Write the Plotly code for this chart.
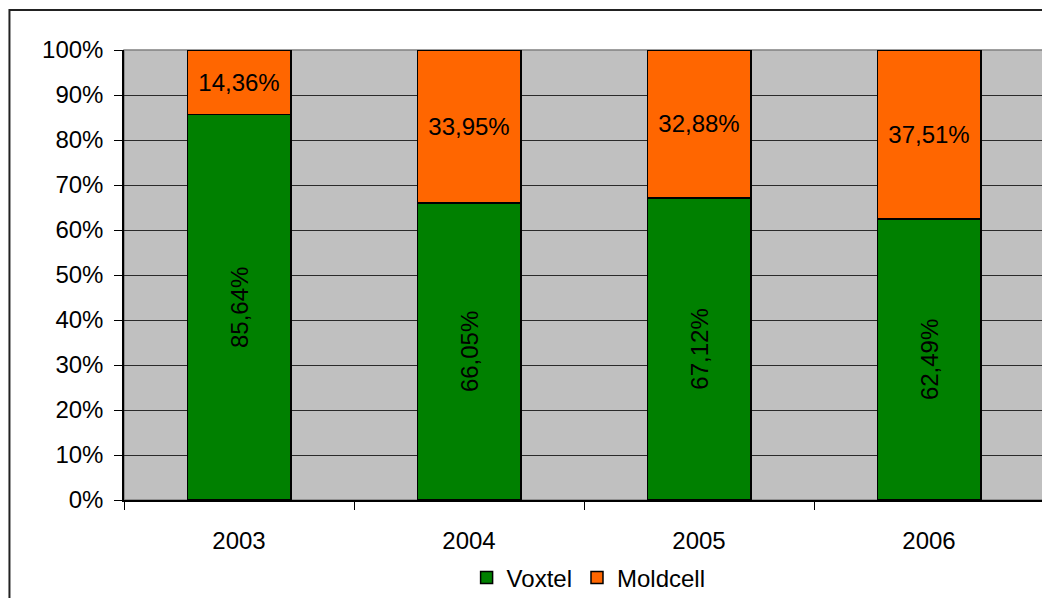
import plotly.graph_objects as go

years = ["2003", "2004", "2005", "2006"]
voxtel = [85.64, 66.05, 67.12, 62.49]
moldcell = [14.36, 33.95, 32.88, 37.51]
y_ticks = list(range(0, 101, 10))
y_tick_text = [f"{v}%" for v in y_ticks]

def fmt(v):
    return f"{v:.2f}".replace(".", ",") + "%"

FONT = "Liberation Sans, Arial, sans-serif"

fig = go.Figure()
fig.add_trace(go.Bar(
    x=years, y=voxtel, name="Voxtel",
    marker=dict(color="#008000", line=dict(color="black", width=1.5)),
    text=[fmt(v) for v in voxtel], textposition="inside",
    insidetextanchor="middle", textangle=-90, constraintext="none",
    insidetextfont=dict(color="black", size=24, family=FONT),
))
fig.add_trace(go.Bar(
    x=years, y=moldcell, name="Moldcell",
    marker=dict(color="#FF6600", line=dict(color="black", width=1.5)),
    text=[fmt(v) for v in moldcell], textposition="inside",
    insidetextanchor="middle", textangle=0, constraintext="none",
    insidetextfont=dict(color="black", size=24, family=FONT),
))

fig.update_layout(
    barmode="stack",
    bargap=0.55,
    width=1042, height=602,
    margin=dict(l=116, r=6, t=42, b=110),
    paper_bgcolor="white",
    plot_bgcolor="#C0C0C0",
    font=dict(family=FONT, size=24, color="black"),
    showlegend=True,
    legend=dict(orientation="h", x=0.505, xanchor="center", y=-0.173, yanchor="middle",
                font=dict(size=24), itemwidth=30, traceorder="normal",
                bgcolor="rgba(0,0,0,0)"),
    xaxis=dict(
        showgrid=False, showline=True, linecolor="black", linewidth=1.5,
        ticks="outside", ticklen=8, tickcolor="black", tickson="boundaries",
        tickfont=dict(size=24), ticklabelstandoff=18,
    ),
    yaxis=dict(
        range=[0, 100], tickmode="array", tickvals=y_ticks, ticktext=y_tick_text,
        showgrid=True, gridcolor="#2a2a2a", gridwidth=1.2,
        showline=True, linecolor="black", linewidth=1.5,
        ticks="outside", ticklen=8, tickcolor="black",
        tickfont=dict(size=24), zeroline=False, ticklabelstandoff=6,
    ),
    shapes=[
        dict(type="rect", xref="paper", yref="paper", x0=0, x1=1, y0=0, y1=1,
             line=dict(color="#808080", width=1.5), layer="below"),
        dict(type="rect", xref="paper", yref="paper", x0=-0.1245, x1=1.2, y0=-0.4, y1=1.0889,
             line=dict(color="#222222", width=2), layer="above"),
    ],
)

fig.write_html("out.html")
